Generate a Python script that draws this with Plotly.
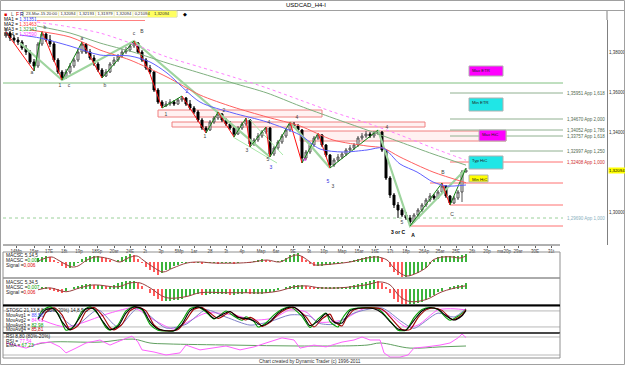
import plotly.graph_objects as go

W, H = 625, 365
FONT = "Liberation Sans, Arial, sans-serif"

# ---------------- price bars (H4) ----------------
bar_idx = list(range(116))
opens = [1.3880,1.3895,1.3870,1.3860,1.3850,1.3820,1.3800,1.3750,1.3730,1.3840,
 1.3890,1.3860,1.3840,1.3760,1.3700,1.3670,1.3700,1.3730,1.3760,1.3800,
 1.3840,1.3800,1.3770,1.3740,1.3710,1.3680,1.3700,1.3740,1.3760,1.3780,
 1.3800,1.3810,1.3830,1.3845,1.3800,1.3760,1.3720,1.3700,1.3610,1.3550,
 1.3530,1.3540,1.3550,1.3540,1.3560,1.3570,1.3540,1.3520,1.3500,1.3460,
 1.3420,1.3410,1.3450,1.3470,1.3490,1.3460,1.3440,1.3420,1.3390,1.3420,
 1.3440,1.3460,1.3340,1.3360,1.3380,1.3400,1.3420,1.3290,1.3320,1.3350,
 1.3380,1.3410,1.3440,1.3430,1.3410,1.3270,1.3300,1.3335,1.3370,1.3385,
 1.3335,1.3285,1.3235,1.3260,1.3275,1.3290,1.3310,1.3320,1.3335,1.3370,
 1.3380,1.3390,1.3380,1.3395,1.3400,1.3310,1.3170,1.3085,1.3035,1.3010,
 1.2985,1.2970,1.2950,1.2985,1.3010,1.3035,1.3060,1.3080,1.3070,1.3100,
 1.3130,1.3080,1.3045,1.3070,1.3100,1.3200]
highs = [1.3920,1.3905,1.3885,1.3875,1.3860,1.3835,1.3810,1.3765,1.3850,1.3905,
 1.3900,1.3885,1.3850,1.3770,1.3710,1.3715,1.3745,1.3770,1.3815,1.3850,
 1.3845,1.3815,1.3785,1.3750,1.3720,1.3715,1.3750,1.3775,1.3790,1.3815,
 1.3825,1.3840,1.3855,1.3850,1.3810,1.3770,1.3735,1.3705,1.3620,1.3560,
 1.3555,1.3565,1.3560,1.3570,1.3580,1.3575,1.3560,1.3530,1.3510,1.3470,
 1.3430,1.3460,1.3480,1.3500,1.3495,1.3470,1.3455,1.3430,1.3430,1.3450,
 1.3470,1.3465,1.3370,1.3395,1.3410,1.3425,1.3425,1.3330,1.3360,1.3390,
 1.3420,1.3450,1.3450,1.3440,1.3415,1.3310,1.3345,1.3380,1.3395,1.3390,
 1.3340,1.3290,1.3270,1.3290,1.3300,1.3320,1.3335,1.3345,1.3380,1.3395,
 1.3405,1.3400,1.3405,1.3410,1.3405,1.3315,1.3180,1.3095,1.3050,1.3020,
 1.3000,1.2985,1.2995,1.3020,1.3045,1.3070,1.3095,1.3090,1.3110,1.3145,
 1.3135,1.3085,1.3080,1.3110,1.3210,1.32193]
lows = [1.3870,1.3855,1.3845,1.3835,1.3810,1.3785,1.3740,1.3705,1.3720,1.3830,
 1.3850,1.3825,1.3750,1.3690,1.3660,1.3665,1.3690,1.3720,1.3750,1.3790,
 1.3790,1.3760,1.3730,1.3700,1.3670,1.3675,1.3695,1.3730,1.3750,1.3770,
 1.3790,1.3800,1.3820,1.3790,1.3750,1.3710,1.3690,1.3600,1.3540,1.3520,
 1.3525,1.3530,1.3530,1.3535,1.3550,1.3530,1.3510,1.3490,1.3450,1.3410,
 1.3395,1.3405,1.3440,1.3460,1.3450,1.3430,1.3410,1.3375,1.3385,1.3410,
 1.3430,1.3325,1.3330,1.3350,1.3370,1.3390,1.3275,1.3280,1.3310,1.3340,
 1.3370,1.3400,1.3420,1.3400,1.3245,1.3260,1.3290,1.3325,1.3360,1.3325,
 1.3275,1.3220,1.3225,1.3250,1.3265,1.3280,1.3300,1.3310,1.3325,1.3360,
 1.3370,1.3370,1.3370,1.3385,1.3300,1.3160,1.3070,1.3020,1.2970,1.2975,
 1.2960,1.2930,1.2945,1.2975,1.3000,1.3025,1.3050,1.3060,1.3065,1.3090,
 1.3070,1.3035,1.3040,1.3060,1.3050,1.31979]
closes = [1.3895,1.3870,1.3860,1.3850,1.3820,1.3800,1.3750,1.3730,1.3840,1.3890,
 1.3860,1.3840,1.3760,1.3700,1.3670,1.3700,1.3730,1.3760,1.3800,1.3840,
 1.3800,1.3770,1.3740,1.3710,1.3680,1.3700,1.3740,1.3760,1.3780,1.3800,
 1.3810,1.3830,1.3845,1.3800,1.3760,1.3720,1.3700,1.3610,1.3550,1.3530,
 1.3540,1.3550,1.3540,1.3560,1.3570,1.3540,1.3520,1.3500,1.3460,1.3420,
 1.3410,1.3450,1.3470,1.3490,1.3460,1.3440,1.3420,1.3390,1.3420,1.3440,
 1.3460,1.3340,1.3360,1.3380,1.3400,1.3420,1.3290,1.3320,1.3350,1.3380,
 1.3410,1.3440,1.3430,1.3410,1.3270,1.3300,1.3335,1.3370,1.3385,1.3335,
 1.3285,1.3235,1.3260,1.3275,1.3290,1.3310,1.3320,1.3335,1.3370,1.3380,
 1.3390,1.3380,1.3395,1.3400,1.3310,1.3170,1.3085,1.3035,1.3010,1.2985,
 1.2970,1.2950,1.2985,1.3010,1.3035,1.3060,1.3080,1.3070,1.3100,1.3130,
 1.3080,1.3045,1.3070,1.3100,1.3200,1.32094]
last_price = 1.32094

# ---------------- moving averages ----------------
ma1_x = [3.5, 8.5, 16, 23.5, 31, 36, 40.25, 48.5, 56.75, 65.25, 73.5, 78.5, 84.25, 90.25, 94.25, 98.5, 102.75, 106.75, 110.25, 115]
ma1_y = [1.3885, 1.3870, 1.3830, 1.3785, 1.3780, 1.3750, 1.3695, 1.3550, 1.3495, 1.3450, 1.3385, 1.3315, 1.3300, 1.3310, 1.3320, 1.3240, 1.3200, 1.3150, 1.3130, 1.31351]
ma2_x = [6, 16, 23.5, 31, 40.25, 48.5, 56.75, 65.25, 73.5, 81.75, 90.25, 94.25, 98.5, 106.75, 115]
ma2_y = [1.3910, 1.3875, 1.3810, 1.3760, 1.3675, 1.3585, 1.3525, 1.3475, 1.3430, 1.3360, 1.3330, 1.3320, 1.3275, 1.3200, 1.31463]
ma3_x = [7.75, 16, 23.5, 31.75, 40.25, 48.5, 56.75, 65.25, 73.5, 81.75, 90.25, 98.5, 106.75, 115]
ma3_y = [1.3930, 1.3895, 1.3845, 1.3800, 1.3745, 1.3695, 1.3645, 1.3595, 1.3530, 1.3470, 1.3410, 1.3350, 1.3290, 1.32343]
ma4_x = [7.75, 16, 23.5, 31.75, 40.25, 48.5, 56.75, 65.25, 73.5, 81.75, 90.25, 98.5, 106.75, 115]
ma4_y = [1.3950, 1.3925, 1.3895, 1.3840, 1.3775, 1.3725, 1.3675, 1.3620, 1.3560, 1.3500, 1.3445, 1.3385, 1.3320, 1.32590]
ma_names = ["MA1", "MA2", "MA3", "MA4"]
ma_values = ["1,31351", "1,31463", "1,32343", "1,32590"]

# ---------------- wave swings ----------------
red_legs = [[(0, 1.3900), (7, 1.3705)], [(9, 1.3905), (14, 1.3660)], [(19, 1.3850), (24, 1.3670)],
            [(32, 1.3855), (36, 1.3690), (39, 1.3520)], [(44, 1.3580), (50, 1.3395)],
            [(53, 1.3500), (57, 1.3375)], [(60, 1.3470), (61, 1.3325)], [(65, 1.3425), (66, 1.3275)],
            [(71, 1.3450), (74, 1.3245)], [(78, 1.3395), (81, 1.3220)], [(109, 1.3145), (111, 1.3035)]]
green_legs = [[(7, 1.3705), (9, 1.3905)], [(14, 1.3660), (19, 1.3850)], [(24, 1.3670), (32, 1.3855)],
              [(39, 1.3520), (44, 1.3580)], [(50, 1.3395), (53, 1.3500)], [(57, 1.3375), (60, 1.3470)],
              [(61, 1.3325), (65, 1.3425)], [(66, 1.3275), (71, 1.3450)], [(74, 1.3245), (78, 1.3395)],
              [(81, 1.3220), (93, 1.3410)], [(101, 1.2930), (109, 1.3145)], [(111, 1.3035), (115, 1.32193)]]
major_legs = [[(3.5, 1.3845), (14, 1.3660), (32, 1.3855), (66, 1.3275)],
              [(71, 1.3450), (81, 1.3220)], [(93, 1.3410), (101, 1.2930), (115, 1.3215)]]
channel_legs = [[(56.75, 1.3375), (67.75, 1.3245)], [(60.5, 1.3470), (69.25, 1.3285)]]

wave_x = [6.5, 9.75, 13.5, 15.75, 19, 24.75, 32, 34, 40, 45.25, 49.75, 54.5, 60.25, 65.75, 65.5, 66.25,
          72.75, 74.75, 80.5, 81.75, 95.25, 99, 98, 101.75, 109.25, 111.5]
wave_y = [1.3695, 1.3920, 1.3630, 1.3630, 1.3865, 1.3630, 1.3890, 1.3900, 1.3485, 1.3600, 1.3375,
          1.3505, 1.3305, 1.3445, 1.3260, 1.3220, 1.3470, 1.3260, 1.3150, 1.3125, 1.3420, 1.2945,
          1.2895, 1.2880, 1.3195, 1.2985]
wave_t = ["a", "b", "1", "c", "a", "b", "c", "B", "1", "2", "1", "2", "3", "4", "5", "3", "4", "a", "5",
          "3", "4", "5", "<b>3 or C</b>", "<b>A</b>", "B", "C"]
wave_c = ["#404040", "#404040", "#404040", "#404040", "#404040", "#404040", "#404040", "#404040",
          "#404040", "#3030e0", "#404040", "#404040", "#404040", "#404040", "#404040", "#3030e0",
          "#404040", "#e000e0", "#3030e0", "#404040", "#404040", "#404040", "#000000", "#000000",
          "#404040", "#404040"]

# ---------------- zones, target boxes, levels ----------------
zone_x0 = [38, 41.5, 73.5]
zone_x1 = [79, 104.75, 125]
zone_lo = [1.3475, 1.3425, 1.3355]
zone_hi = [1.3510, 1.3450, 1.3405]

box_x0 = [115.75, 115.75, 118.25, 115.75, 115.75]
box_x1 = [124.25, 124.25, 125.0, 124.25, 120.5]
box_lo = [1.3680, 1.3505, 1.3355, 1.3215, 1.3150]
box_hi = [1.3730, 1.3570, 1.3410, 1.3280, 1.3185]
box_text = ["Max ETR", "Min ETR", "Max HiC", "Typ HiC", "Min HiC"]
box_color = ["#ff00ff", "#20e6e6", "#ff00ff", "#20e6e6", "#ffff00"]

level_price = [1.3645, 1.3595, 1.3465, 1.3410, 1.3380, 1.3305, 1.3250, 1.3145, 1.3035, 1.2970, 1.2930]
level_start = [-0.75, 111, 111, 111, 111, 111, 111, 106, 111, -0.75, 101]
level_text = ["", "1,35951 App 1,618", "1,34670 App 2,000", "1,34052 App 1,786", "1,33757 App 1,618",
              "1,32997 App 1,250", "1,32408 App 1,000", "", "", "1,29690 App 1,000", ""]
level_color = ["#80c080", "#90b090", "#90b090", "#90b090", "#90b090", "#90b090", "#ff7070",
               "#ff7070", "#ff7070", "#9ad09a", "#ff7070"]
level_dash = ["solid"] * 9 + ["dot", "solid"]
level_end = 139.25

price_ticks = [1.30, 1.34, 1.36, 1.38]
price_labels = ["1,30000", "1,34000", "1,36000", "1,38000"]

date_ticks = [2.5, 7, 10.75, 14.5, 18.25, 22.75, 27, 31, 34.75, 38.75, 43.25, 47, 51, 55, 59, 63.75,
              67.5, 71.75, 75.75, 79.5, 84, 88.25, 92.25, 96, 100, 104.5, 108.5, 112.5, 116.5,
              120.25, 124.5, 128, 132.25, 136.25]
date_labels = ["14Mp", "15ar", "17E", "18t", "19p", "18Sp", "20ar", "24E", "2t", "3p", "5Mp", "1ar",
               "28", "3t", "4p", "Map", "6ar", "9E", "9t", "10p", "Map", "15ar", "16E", "17t", "18p",
               "26Ap", "25ar", "25E", "26t", "20p", "ma20p", "29ar", "30E", "31t"]

toolbar_items = ["23-Mar-15 20:00", "1,32094", "1,32193", "1,31979", "1,32094", "0,21094"]
toolbar_last = "1,32094"

# ---------------- MACD panels ----------------
hist_idx = list(range(8, 116))
hist1 = [0.004,0.005,0.006,0.005,0.002,-0.001,-0.004,-0.006,-0.006,-0.004,
 -0.001,0.003,0.005,0.006,0.006,0.006,0.005,0.004,0.002,0.000,
 0.002,0.005,0.006,0.008,0.007,0.003,-0.001,-0.005,-0.008,-0.010,
 -0.013,-0.011,-0.008,-0.007,-0.004,-0.003,-0.001,-0.001,0.000,-0.001,
 -0.001,-0.002,-0.001,-0.001,-0.001,-0.002,-0.001,-0.001,-0.001,-0.002,
 -0.001,0.000,0.000,-0.001,0.001,0.002,0.003,0.002,0.001,0.000,
 0.001,0.002,0.004,0.007,0.008,0.009,0.006,0.002,-0.002,-0.004,
 -0.004,-0.004,-0.003,-0.003,-0.002,-0.002,-0.001,0.000,0.001,0.002,
 0.003,0.004,0.005,0.006,0.006,0.006,0.004,0.000,-0.005,-0.010,
 -0.013,-0.015,-0.015,-0.014,-0.012,-0.011,-0.008,-0.006,-0.002,0.002,
 0.005,0.006,0.006,0.006,0.006,0.006,0.007,0.008]
sig1_x = [7.75,9.25,11.5,13,15.25,16.5,18,20.25,22.25,23.5,26,28.5,30.5,32.75,34.25,36.75,39.25,41.75,45.25,48.5,
          51.75,58.5,61.75,65.25,68.5,71,72.75,74.25,76,77.25,78.5,81.75,86,90.25,92.75,95.25,96.75,98.5,100.25,102.75,
          105.25,106.75,109.25,111.75,113.5,115]
sig1_y = [0,.003,.005,.002,-.003,-.005,-.004,.002,.005,.005,.003,0,.004,.006,.002,-.005,-.010,-.006,-.001,0,
          -.001,-.001,0,.002,0,.005,.007,.005,0,-.003,-.003,-.002,0,.004,.005,.002,-.005,-.011,-.014,-.011,
          -.005,.002,.005,.005,.004,.006]
hist2 = [0.000,0.002,0.002,-0.002,-0.004,-0.006,-0.008,-0.004,0.000,0.002,
 0.006,0.008,0.010,0.010,0.008,0.008,0.008,0.006,0.006,0.008,
 0.012,0.014,0.016,0.016,0.016,0.012,0.006,0.000,-0.008,-0.014,
 -0.020,-0.024,-0.024,-0.024,-0.022,-0.022,-0.020,-0.016,-0.014,-0.010,
 -0.010,-0.012,-0.012,-0.010,-0.010,-0.010,-0.010,-0.010,-0.012,-0.012,
 -0.010,-0.010,-0.008,-0.010,-0.010,-0.010,-0.010,-0.008,-0.006,-0.006,
 -0.002,0.000,0.004,0.006,0.008,0.008,0.008,0.006,0.004,0.002,
 0.002,0.002,0.002,0.002,0.002,0.004,0.004,0.004,0.006,0.008,
 0.010,0.012,0.014,0.016,0.018,0.016,0.012,0.004,-0.008,-0.020,
 -0.026,-0.030,-0.032,-0.030,-0.030,-0.028,-0.026,-0.022,-0.016,-0.012,
 -0.006,-0.004,0.000,0.002,0.006,0.008,0.008,0.012]
sig2_x = [8,11,15,18.5,22,28,31,33.5,36,40,45,48.5,55,60,65,68.5,72,75,78.5,83.5,90,93.5,96,98.5,101,105,109,113.5,115]
sig2_y = [-.002,.002,-.006,.002,.008,.004,.012,.012,.002,-.018,-.016,-.008,-.008,-.008,-.008,-.004,.004,.006,.002,.002,
          .008,.014,.008,-.016,-.026,-.022,-.006,.004,.006]

# ---------------- stochastic ----------------
sto_green_x = [8,9,11,13,15,17,19,21,23,25,26,28,30,32,34,36,38,40,42,44,46,48,50,52,54,55,57,59,60,62,
               63,65,67,69,71,74,76,78,80,81,83,84,86,89,93,95,97,98,100,102,104,106,108,110,111,113,115]
sto_green_y = [50,80,95,70,8,22,78,95,68,18,8,28,80,96,84,30,8,5,6,42,88,95,76,50,70,80,60,45,58,40,
               20,35,65,86,95,60,18,50,72,40,20,50,85,92,88,60,25,8,8,55,85,93,85,55,45,60,83]
sto_red_x = [9,10,12,14,16,18,20,22,24,26,27,29,31,33,35,37,39,41,43,45,47,49,51,53,55,56,58,60,61,63,
             64,66,68,70,72,75,77,79,81,82,84,85,87,90,94,96,98,99,101,103,105,107,109,111,112,114,115]
sto_red_y = [45,75,92,65,10,25,78,93,65,18,9,30,80,94,80,28,8,6,10,45,86,93,72,52,68,77,58,46,56,38,
             22,37,66,86,93,58,20,50,68,42,24,50,84,91,86,58,24,10,10,55,84,91,82,53,47,65,86]
sto_black_x = [8,9,10,12,14,16,18,20,22,24,26,28,30,32,34,36,38,40,42,44,46,48,50,52,54,56,58,60,62,64,
               66,68,70,72,74,76,78,80,82,84,86,88,92,94,96,98,100,102,104,106,108,110,112,114,115]
sto_black_y = [48,70,85,88,40,9,45,88,88,45,10,22,72,95,88,40,12,6,6,30,80,95,80,52,66,78,55,52,42,25,
               40,72,90,94,70,25,42,70,38,35,80,90,88,72,40,12,9,45,80,92,86,62,46,62,82]
sto_blue_x = [9,12,17,23,28,33,40,45,50,55,61,66,71,76,78,82,87,94,99,102,108,112,115]
sto_blue_y = [70,80,22,84,20,90,16,30,84,57,27,40,65,60,35,30,72,91,39,15,72,57,89]
sto_pink_x = [9,15,26,32,37,42,45,50,57,62,67,71,75,78,84,90,95,100,103,108,112,115]
sto_pink_y = [46,20,72,91,46,12,35,72,65,46,54,84,76,39,46,91,76,20,27,84,88,84]

# ---------------- RSI ----------------
rsi_x = [0,2,5,8.5,11,13.5,15,17.5,20,23.5,26,29,31.5,33,34,37,40,43.5,45,48.5,
         52,55,58.5,62,65,69,72,73.5,77,80,84,87,89,91,93.5,94.5,96,98.5,100.5,102,
         105,108.5,111,113,114,115]
rsi_y = [60,53,43,60,63,47,27,43,60,70,53,70,83,63,37,30,20,27,53,37,
         43,50,37,47,60,77,70,43,53,47,63,70,80,70,70,27,13,13,20,43,
         47,53,60,77,90,78]
ema_x = [6.75,11,23.5,31.75,36,40.25,56.75,73.5,90.25,93.5,101,108.5,115]
ema_y = [53,63,63,73,60,57,53,50,53,60,43,47,50]

# =====================================================================
def PX(p):
    return p / W

def PY(p):
    return 1 - p / H

fig = go.Figure()

fig.add_trace(go.Candlestick(
    x=bar_idx, open=opens, high=highs, low=lows, close=closes,
    increasing=dict(line=dict(color="#505050", width=1), fillcolor="#ffffff"),
    decreasing=dict(line=dict(color="#000000", width=1), fillcolor="#000000"),
    whiskerwidth=0, xaxis="x", yaxis="y", showlegend=False, hoverinfo="skip"))

def legs_xy(legs):
    xs, ys = [], []
    for leg in legs:
        for (a, b) in leg:
            xs.append(a); ys.append(b)
        xs.append(None); ys.append(None)
    return xs, ys

for legs, col, wd in [(major_legs, "#9ed49e", 2.2), (channel_legs, "#a8e8a8", 1),
                      (red_legs, "#ff1010", 1), (green_legs, "#108010", 1)]:
    xs, ys = legs_xy(legs)
    fig.add_trace(go.Scatter(x=xs, y=ys, mode="lines", line=dict(color=col, width=wd),
                             xaxis="x", yaxis="y", showlegend=False, hoverinfo="skip"))

for mx, my, col, dash in [(ma4_x, ma4_y, "#ff80ff", "dot"), (ma3_x, ma3_y, "#7fb07f", "solid"),
                          (ma2_x, ma2_y, "#ff6060", "solid"), (ma1_x, ma1_y, "#6060ff", "solid")]:
    fig.add_trace(go.Scatter(x=mx, y=my, mode="lines", line=dict(color=col, width=1, dash=dash, shape="spline", smoothing=0.8),
                             xaxis="x", yaxis="y", showlegend=False, hoverinfo="skip"))

fig.add_trace(go.Scatter(x=wave_x, y=wave_y, mode="text", text=wave_t,
                         textfont=dict(family=FONT, size=5, color=wave_c),
                         xaxis="x", yaxis="y", showlegend=False, hoverinfo="skip"))

# MACD panels
def hist_colors(vals):
    out = []
    for k, v in enumerate(vals):
        prev = vals[k - 1] if k > 0 else v
        out.append("#3cb43c" if v >= prev else "#ff5a5a")
    return out

for hv, sx, sy, xa, ya in [(hist1, sig1_x, sig1_y, "x2", "y2"), (hist2, sig2_x, sig2_y, "x3", "y3")]:
    fig.add_trace(go.Bar(x=hist_idx, y=hv, width=0.3, marker=dict(color=hist_colors(hv), line=dict(width=0)),
                         xaxis=xa, yaxis=ya, showlegend=False, hoverinfo="skip"))
    fig.add_trace(go.Scatter(x=sx, y=sy, mode="lines", line=dict(color="#9a4040", width=1, shape="spline"),
                             xaxis=xa, yaxis=ya, showlegend=False, hoverinfo="skip"))

# stochastic
for sx, sy, col, wd in [(sto_pink_x, sto_pink_y, "#ff60ff", 1), (sto_blue_x, sto_blue_y, "#8080c8", 1),
                        (sto_green_x, sto_green_y, "#00a000", 1.1), (sto_red_x, sto_red_y, "#a00000", 1.1),
                        (sto_black_x, sto_black_y, "#000000", 1.1)]:
    fig.add_trace(go.Scatter(x=sx, y=sy, mode="lines", line=dict(color=col, width=wd, shape="spline", smoothing=0.7),
                             xaxis="x4", yaxis="y4", showlegend=False, hoverinfo="skip"))

# RSI
fig.add_trace(go.Scatter(x=ema_x, y=ema_y, mode="lines", line=dict(color="#60a060", width=1, shape="spline"),
                         xaxis="x5", yaxis="y5", showlegend=False, hoverinfo="skip"))
fig.add_trace(go.Scatter(x=rsi_x, y=rsi_y, mode="lines", line=dict(color="#ff60ff", width=1),
                         xaxis="x5", yaxis="y5", showlegend=False, hoverinfo="skip"))

# ---------------- shapes ----------------
shapes = []
for x0, x1, lo, hi in zip(zone_x0, zone_x1, zone_lo, zone_hi):
    shapes.append(dict(type="rect", xref="x", yref="y", x0=x0, x1=x1, y0=lo, y1=hi,
                       line=dict(color="#f08080", width=1), fillcolor="rgba(255,215,215,0.35)", layer="below"))
for p, s, col, dash in zip(level_price, level_start, level_color, level_dash):
    shapes.append(dict(type="line", xref="x", yref="y", x0=s, x1=level_end, y0=p, y1=p,
                       line=dict(color=col, width=1, dash=dash), layer="below"))
for x0, x1, lo, hi, col in zip(box_x0, box_x1, box_lo, box_hi, box_color):
    shapes.append(dict(type="rect", xref="x", yref="y", x0=x0, x1=x1, y0=lo, y1=hi,
                       line=dict(color="#b0b0b0", width=1), fillcolor=col, layer="above"))

def pline(x0, y0, x1, y1, col, wd=1):
    shapes.append(dict(type="line", xref="paper", yref="paper", x0=PX(x0), x1=PX(x1), y0=PY(y0), y1=PY(y1),
                       line=dict(color=col, width=wd)))

def prect(x0, y0, x1, y1, col, fill="rgba(0,0,0,0)", wd=1):
    shapes.append(dict(type="rect", xref="paper", yref="paper", x0=PX(x0), x1=PX(x1), y0=PY(y1), y1=PY(y0),
                       line=dict(color=col, width=wd), fillcolor=fill))

pline(0, 10.5, 625, 10.5, "#a0a0a0")
pline(607, 11, 607, 20, "#808080")
pline(3, 245, 560, 245, "#606060")
pline(37, 20.5, 145, 20.5, "#ff8080")
prect(23, 11, 177, 17, "#d8d890", "#ffffff")
prect(148, 11.5, 176, 16.5, "#ffff60", "#ffff60")
prect(3, 252, 560, 278, "#909090")
prect(3, 278, 560, 305, "#909090")
prect(3, 305, 560, 333, "#909090")
pline(3, 305.5, 560, 305.5, "#000000", 2)
pline(3, 333, 560, 333, "#000000", 2)
prect(3, 333, 560, 358, "#909090")
for v in [80, 20]:
    shapes.append(dict(type="line", xref="x4", yref="y4", x0=-0.75, x1=138.5, y0=v, y1=v,
                       line=dict(color="#b8b8b8", width=1), layer="below"))
    shapes.append(dict(type="line", xref="x5", yref="y5", x0=-0.75, x1=138.5, y0=v, y1=v,
                       line=dict(color="#b8b8b8", width=1), layer="below"))
prect(0.5, 0.5, 624.5, 364.5, "#a0a0a0")

# ---------------- annotations ----------------
ann = []

def note(text, x, y, color="#000000", size=5, xanchor="left", **kw):
    ann.append(dict(text=text, x=PX(x), y=PY(y), xref="paper", yref="paper", xanchor=xanchor, yanchor="middle",
                    showarrow=False, font=dict(family=FONT, size=size, color=color), **kw))

note("USDCAD_H4-I", 306, 5.5, "#000000", 6, "center")
note("■", 2, 14, "#e00000", 5)
note("L", 9, 14, "#606060", 5)
note("F", 13.5, 14, "#d00000", 5)
note("R", 18, 14, "#000080", 5)
sep = " <span style='color:#c8c800'>|</span> "
note(sep.join(toolbar_items), 24, 14, "#303030", 4.2)
note(toolbar_last, 162, 14, "#303030", 4.2, "center")
note("◆", 181, 14, "#000000", 5)

ma_cols = ["#3030ff", "#ff3030", "#30a030", "#ff40ff"]
for k, (nm, val, col) in enumerate(zip(ma_names, ma_values, ma_cols)):
    note(f"{nm} = <span style='color:{col}'>{val}</span>", 2, 19.5 + 4.9 * k, "#000000", 4.8)

# level labels
for p, t, col in zip(level_price, level_text, level_color):
    if t:
        ann.append(dict(text=t, x=level_end + 0.5, y=p, xref="x", yref="y", xanchor="left", yanchor="middle",
                        showarrow=False, font=dict(family=FONT, size=4.5,
                                                   color="#d03030" if col == "#ff7070" else ("#8ab0c0" if "1,2969" in t else "#506850"))))
# box labels
for x0, hi, t in zip(box_x0, box_hi, box_text):
    ann.append(dict(text=t, x=x0 + 0.2, y=hi, xref="x", yref="y", xanchor="left", yanchor="top",
                    showarrow=False, font=dict(family=FONT, size=4.3, color="#202020")))
# current price tag
ann.append(dict(text="1,32094", x=PX(607.5), y=last_price, xref="paper", yref="y", xanchor="left", yanchor="middle",
                showarrow=False, bgcolor="#ffff00", borderpad=0,
                font=dict(family=FONT, size=4.3, color="#000000")))

note("MACSC 5,14,5", 4, 255, "#202020", 4.8)
note("MACSC =<span style='color:#00a000'>0,006</span>", 4, 260, "#202020", 4.8)
note("Signal =<span style='color:#e00000'>0,006</span>", 4, 265, "#202020", 4.8)
note("MACSC 5,34,5", 4, 282, "#202020", 4.8)
note("MACSC =<span style='color:#00a000'>0,007</span>", 4, 287, "#202020", 4.8)
note("Signal =<span style='color:#e00000'>0,006</span>", 4, 292, "#202020", 4.8)
note("STOSC 21,13,8,8 (80%-20%) 14,8,5,3", 4, 310, "#202020", 4.8)
note("MovAvg1 = <span style='color:#5050ff'>88,56</span>", 4, 315.5, "#202020", 4.8)
note("MovAvg2 = <span style='color:#ff40ff'>84,41</span>", 4, 320.3, "#202020", 4.8)
note("MovAvg3 = <span style='color:#00a000'>82,98</span>", 4, 325, "#202020", 4.8)
note("MovAvg4 = <span style='color:#c00000'>85,81</span>", 4, 329.5, "#202020", 4.8)
note("RSI 8,80 (80%-20%)", 4, 336.5, "#202020", 4.8)
note("RSI = <span style='color:#ff40ff'>77,54</span>", 4, 341, "#202020", 4.8)
note("EMA = <span style='color:#00a000'>67,23</span>", 4, 345.5, "#202020", 4.8)
note("Chart created by Dynamic Trader (c) 1996-2011", 310, 361.5, "#303030", 4.8, "center")

# ---------------- axes ----------------
X_MAIN = [-0.75, 150.25]
X_IND = [-0.75, 138.5]
hidden = dict(visible=False, showgrid=False, zeroline=False, fixedrange=True)

layout = dict(
    width=W, height=H, margin=dict(l=0, r=0, t=0, b=0),
    paper_bgcolor="#ffffff", plot_bgcolor="rgba(0,0,0,0)",
    showlegend=False, bargap=0, barmode="overlay",
    font=dict(family=FONT, size=5, color="#303030"),
    xaxis=dict(domain=[PX(3), PX(607)], range=X_MAIN, anchor="y", tickmode="array",
               tickvals=date_ticks, ticktext=date_labels, ticks="outside", ticklen=2, tickcolor="#606060",
               tickfont=dict(family=FONT, size=4.5, color="#303030"), showline=False, showgrid=False,
               zeroline=False, rangeslider=dict(visible=False)),
    yaxis=dict(domain=[PY(245), PY(20)], range=[1.2835, 1.396], side="right", anchor="x",
               tickmode="array", tickvals=price_ticks, ticktext=price_labels, ticks="",
               tickfont=dict(family=FONT, size=4.5, color="#303030"),
               showline=True, linecolor="#808080", linewidth=1, showgrid=False, zeroline=False),
    xaxis2=dict(domain=[PX(3), PX(560)], range=X_IND, anchor="y2", **hidden),
    yaxis2=dict(domain=[PY(278), PY(252)], range=[-0.016, 0.010], anchor="x2", **hidden),
    xaxis3=dict(domain=[PX(3), PX(560)], range=X_IND, anchor="y3", **hidden),
    yaxis3=dict(domain=[PY(305), PY(278)], range=[-0.033, 0.022], anchor="x3", **hidden),
    xaxis4=dict(domain=[PX(3), PX(560)], range=X_IND, anchor="y4", **hidden),
    yaxis4=dict(domain=[PY(333), PY(305)], range=[-2.6, 102.2], anchor="x4", **hidden),
    xaxis5=dict(domain=[PX(3), PX(560)], range=X_IND, anchor="y5", **hidden),
    yaxis5=dict(domain=[PY(358), PY(333)], range=[10, 93.3], anchor="x5", **hidden),
    shapes=shapes, annotations=ann,
)
fig.update_layout(**layout)
fig.write_html("out.html")
